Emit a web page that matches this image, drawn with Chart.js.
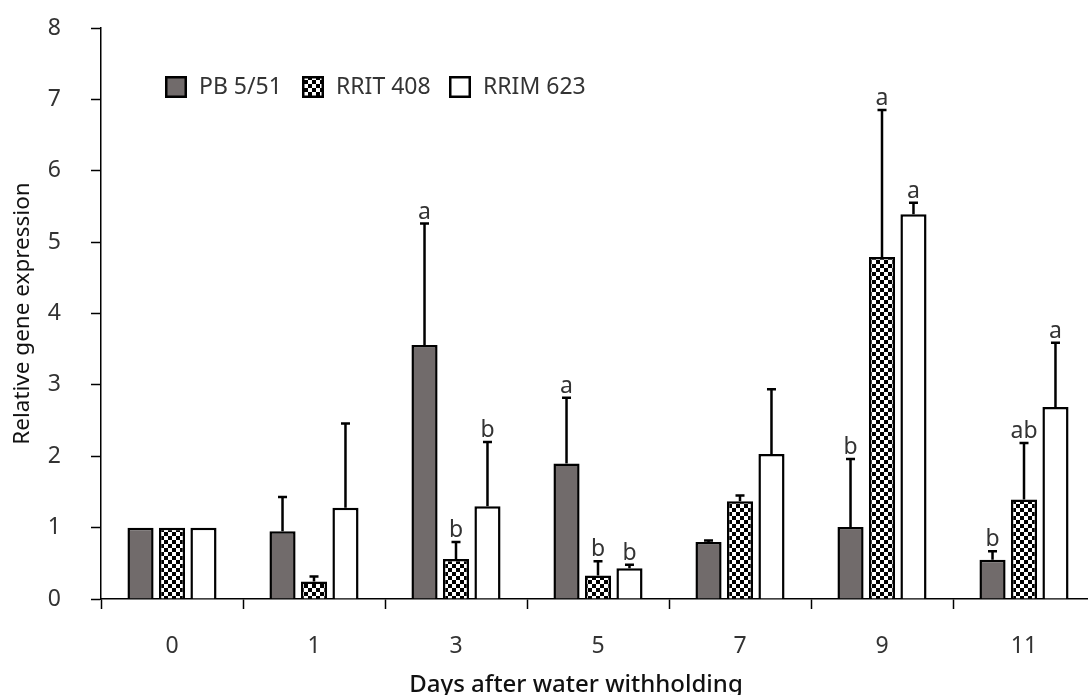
<!DOCTYPE html>
<html>
<head>
<meta charset="utf-8">
<script src="https://cdn.jsdelivr.net/npm/chart.js@4.4.1/dist/chart.umd.min.js"></script>
<style>
  html, body { margin: 0; padding: 0; background: #fff; overflow: hidden; }
  canvas { display: block; }
</style>
</head>
<body>
<canvas id="expressionChart" width="1100" height="695"></canvas>
<script>
// Data
var days = ['0', '1', '3', '5', '7', '9', '11'];
var seriesNames = ['PB 5/51', 'RRIT 408', 'RRIM 623'];

var pbMean = [1, 0.95, 3.56, 1.90, 0.80, 1.01, 0.55];
var pbErr = [0, 0.48, 1.70, 0.92, 0.02, 0.95, 0.12];
var pbLetters = ['', '', 'a', 'a', '', 'b', 'b'];

var rritMean = [1, 0.245, 0.56, 0.33, 1.37, 4.79, 1.395];
var rritErr = [0, 0.07, 0.24, 0.20, 0.08, 2.06, 0.79];
var rritLetters = ['', '', 'b', 'b', '', 'a', 'ab'];

var rrimMean = [1, 1.28, 1.30, 0.43, 2.03, 5.39, 2.69];
var rrimErr = [0, 1.18, 0.90, 0.05, 0.91, 0.16, 0.90];
var rrimLetters = ['', '', 'b', 'b', '', 'a', 'a'];

var xTitle = 'Days after water withholding';
var yTitle = 'Relative gene expression';

var errs = [pbErr, rritErr, rrimErr];
var letters = [pbLetters, rritLetters, rrimLetters];

var FONT = "'Noto Sans', 'Open Sans', sans-serif";

// checkerboard fill for RRIT 408
function makeChecker(cell) {
  var c = document.createElement('canvas');
  c.width = cell * 2;
  c.height = cell * 2;
  var g = c.getContext('2d');
  g.fillStyle = '#fff';
  g.fillRect(0, 0, c.width, c.height);
  g.fillStyle = '#000';
  g.fillRect(0, 0, cell, cell);
  g.fillRect(cell, cell, cell, cell);
  return g.createPattern(c, 'repeat');
}
var ctx = document.getElementById('expressionChart').getContext('2d');
var checker = makeChecker(4);
var fills = ['#716b6b', checker, '#ffffff'];

// error bars + significance letters
var errorBarPlugin = {
  id: 'errorBars',
  afterDatasetsDraw: function (chart) {
    var c = chart.ctx;
    var y = chart.scales.y;
    c.save();
    chart.data.datasets.forEach(function (ds, i) {
      var meta = chart.getDatasetMeta(i);
      meta.data.forEach(function (bar, j) {
        var e = errs[i][j];
        var top = y.getPixelForValue(ds.data[j] + e);
        if (e > 0) {
          c.strokeStyle = '#000';
          c.lineWidth = 2.5;
          c.beginPath();
          c.moveTo(bar.x, bar.y);
          c.lineTo(bar.x, top);
          c.moveTo(bar.x - 4.5, top);
          c.lineTo(bar.x + 4.5, top);
          c.stroke();
        }
        var t = letters[i][j];
        if (t) {
          c.fillStyle = '#333';
          c.font = '23px ' + FONT;
          c.textAlign = 'center';
          c.textBaseline = 'alphabetic';
          c.fillText(t, bar.x, top - 5);
        }
      });
    });
    c.restore();
  }
};

// legend inside plot area (top left) and the x axis title
var legendPlugin = {
  id: 'innerLegend',
  afterDraw: function (chart) {
    var c = chart.ctx;
    var xs = [165, 302, 449];
    c.save();
    chart.data.datasets.forEach(function (ds, i) {
      c.fillStyle = fills[i];
      c.fillRect(xs[i], 76, 22, 22);
      c.strokeStyle = '#000';
      c.lineWidth = 2.5;
      c.strokeRect(xs[i] + 1.25, 77.25, 19.5, 19.5);
      c.fillStyle = '#333';
      c.font = '23px ' + FONT;
      c.textAlign = 'left';
      c.textBaseline = 'middle';
      c.fillText(ds.label, xs[i] + 34, 87);
    });
    c.fillStyle = '#111';
    c.font = '500 24px ' + FONT;
    c.textAlign = 'center';
    c.textBaseline = 'alphabetic';
    c.fillText(xTitle, 576, 692);
    c.restore();
  }
};

var chart = new Chart(ctx, {
  type: 'bar',
  data: {
    labels: days,
    datasets: [
      { label: seriesNames[0], data: pbMean, backgroundColor: fills[0] },
      { label: seriesNames[1], data: rritMean, backgroundColor: fills[1] },
      { label: seriesNames[2], data: rrimMean, backgroundColor: fills[2] }
    ]
  },
  plugins: [errorBarPlugin, legendPlugin],
  options: {
    responsive: false,
    animation: false,
    datasets: {
      bar: {
        borderColor: '#000',
        borderWidth: 2.5,
        categoryPercentage: 0.665,
        barPercentage: 0.83
      }
    },
    layout: { padding: { top: 28, right: 5, bottom: 0, left: 0 } },
    plugins: {
      legend: { display: false },
      tooltip: { enabled: false }
    },
    scales: {
      x: {
        grid: {
          display: true,
          drawOnChartArea: false,
          drawTicks: true,
          tickLength: 10,
          tickWidth: 1.5,
          tickColor: '#000'
        },
        border: { color: '#000', width: 1.5 },
        ticks: {
          color: '#333',
          padding: 24,
          font: { family: FONT, size: 23 }
        },
        afterFit: function (scale) { scale.height = 96; }
      },
      y: {
        min: 0,
        max: 8,
        ticks: {
          stepSize: 1,
          color: '#333',
          padding: 30,
          font: { family: FONT, size: 23 }
        },
        grid: {
          display: true,
          drawOnChartArea: false,
          drawTicks: true,
          tickLength: 10,
          tickWidth: 1.5,
          tickColor: '#000'
        },
        border: { color: '#000', width: 1.5 },
        title: {
          display: true,
          text: yTitle,
          color: '#111',
          font: { family: FONT, size: 22.5 },
          padding: { top: 9, bottom: 0 }
        },
        afterFit: function (scale) {
          scale.width = 101;
          scale.paddingTop = 0;
          scale.paddingBottom = 0;
        }
      }
    }
  }
});
</script>
</body>
</html>
